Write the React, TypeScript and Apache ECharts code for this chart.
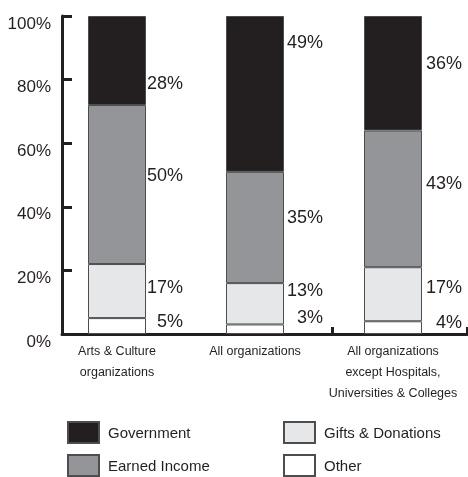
import React, { useEffect, useRef } from "react";
import * as echarts from "echarts";

const categories = [
  "Arts & Culture\norganizations",
  "All organizations",
  "All organizations\nexcept Hospitals,\nUniversities & Colleges",
];
const seriesNames = ["Other", "Gifts & Donations", "Earned Income", "Government"];
const other = [5, 3, 4];
const gifts = [17, 13, 17];
const earned = [50, 35, 43];
const government = [28, 49, 36];
const yTicks = { min: 0, max: 100, interval: 20 };

// label placement styling (not data)
const labelDx = [37, 39, 40];
const labelDy = {
  Other: [-5, -12, -6],
  "Gifts & Donations": [-4, -14, -7],
  "Earned Income": [-10, -10, -16],
  Government: [22, -52, -10],
};

const colors: Record<string, string> = {
  Other: "#ffffff",
  "Gifts & Donations": "#e6e7e8",
  "Earned Income": "#939598",
  Government: "#231f20",
};

// legend placement styling
const legendSlots: Record<string, { left: number; top: number }> = {
  Government: { left: 67, top: 421 },
  "Earned Income": { left: 67, top: 454 },
  "Gifts & Donations": { left: 283, top: 421 },
  Other: { left: 283, top: 454 },
};

const FONT = "'Liberation Sans', Arial, Helvetica, sans-serif";
const INK = "#231f20";

export default function App() {
  const ref = useRef<HTMLDivElement>(null);
  useEffect(() => {
    if (!ref.current) return;
    const chart = echarts.init(ref.current, undefined, { renderer: "svg" });
    const valuesBy: Record<string, number[]> = {
      Other: other,
      "Gifts & Donations": gifts,
      "Earned Income": earned,
      Government: government,
    };
    const series = seriesNames.map((name) => ({
      name,
      type: "bar",
      stack: "total",
      xAxisIndex: 1,
      yAxisIndex: 1,
      barWidth: 58,
      itemStyle: { color: colors[name], borderColor: "#4d4d4f", borderWidth: 1 },
      label: {
        show: true,
        position: "right",
        distance: 0,
        align: "right",
        formatter: "{c}%",
        fontFamily: FONT,
        fontSize: 18,
        color: INK,
      },
      data: valuesBy[name].map((v, i) => ({
        value: v,
        label: { offset: [labelDx[i], (labelDy as any)[name][i]] },
      })),
    }));
    const legends = Object.keys(legendSlots).map((name) => ({
      data: [name],
      left: legendSlots[name].left,
      top: legendSlots[name].top,
      padding: 0,
      itemWidth: 31,
      itemHeight: 21,
      icon: "rect",
      textStyle: { fontFamily: FONT, fontSize: 15, color: INK, padding: [0, 0, 0, 4] },
      selectedMode: false,
    }));
    chart.setOption({
      animation: false,
      grid: [
        { left: 62, right: 1, top: 16, bottom: 143 },
        { left: 48, width: 414, top: 16, bottom: 143 },
      ],
      xAxis: [
        {
          type: "category",
          gridIndex: 0,
          data: categories,
          axisLine: { lineStyle: { color: INK, width: 3 } },
          axisTick: { show: true, inside: true, length: 7, lineStyle: { color: INK, width: 3 } },
          axisLabel: { show: false },
        },
        {
          type: "category",
          gridIndex: 1,
          data: categories,
          axisLine: { show: false },
          axisTick: { show: false },
          axisLabel: {
            interval: 0,
            fontFamily: FONT,
            fontSize: 12.5,
            lineHeight: 21,
            color: INK,
            margin: 6,
          },
        },
      ],
      yAxis: [
        {
          type: "value",
          gridIndex: 0,
          min: yTicks.min,
          max: yTicks.max,
          interval: yTicks.interval,
          axisLine: { show: true, lineStyle: { color: INK, width: 3 } },
          axisTick: { show: true, inside: true, length: 10, lineStyle: { color: INK, width: 3 } },
          splitLine: { show: false },
          axisLabel: {
            formatter: "{value}%",
            fontFamily: FONT,
            fontSize: 17,
            color: INK,
            margin: 11,
            verticalAlign: "top",
            lineHeight: 14,
          },
        },
        {
          type: "value",
          gridIndex: 1,
          min: yTicks.min,
          max: yTicks.max,
          interval: yTicks.interval,
          show: false,
        },
      ],
      legend: legends,
      series,
    });
    return () => chart.dispose();
  }, []);
  return (
    <div
      ref={ref}
      style={{ position: "fixed", left: 0, top: 0, width: 468, height: 477 }}
    />
  );
}
